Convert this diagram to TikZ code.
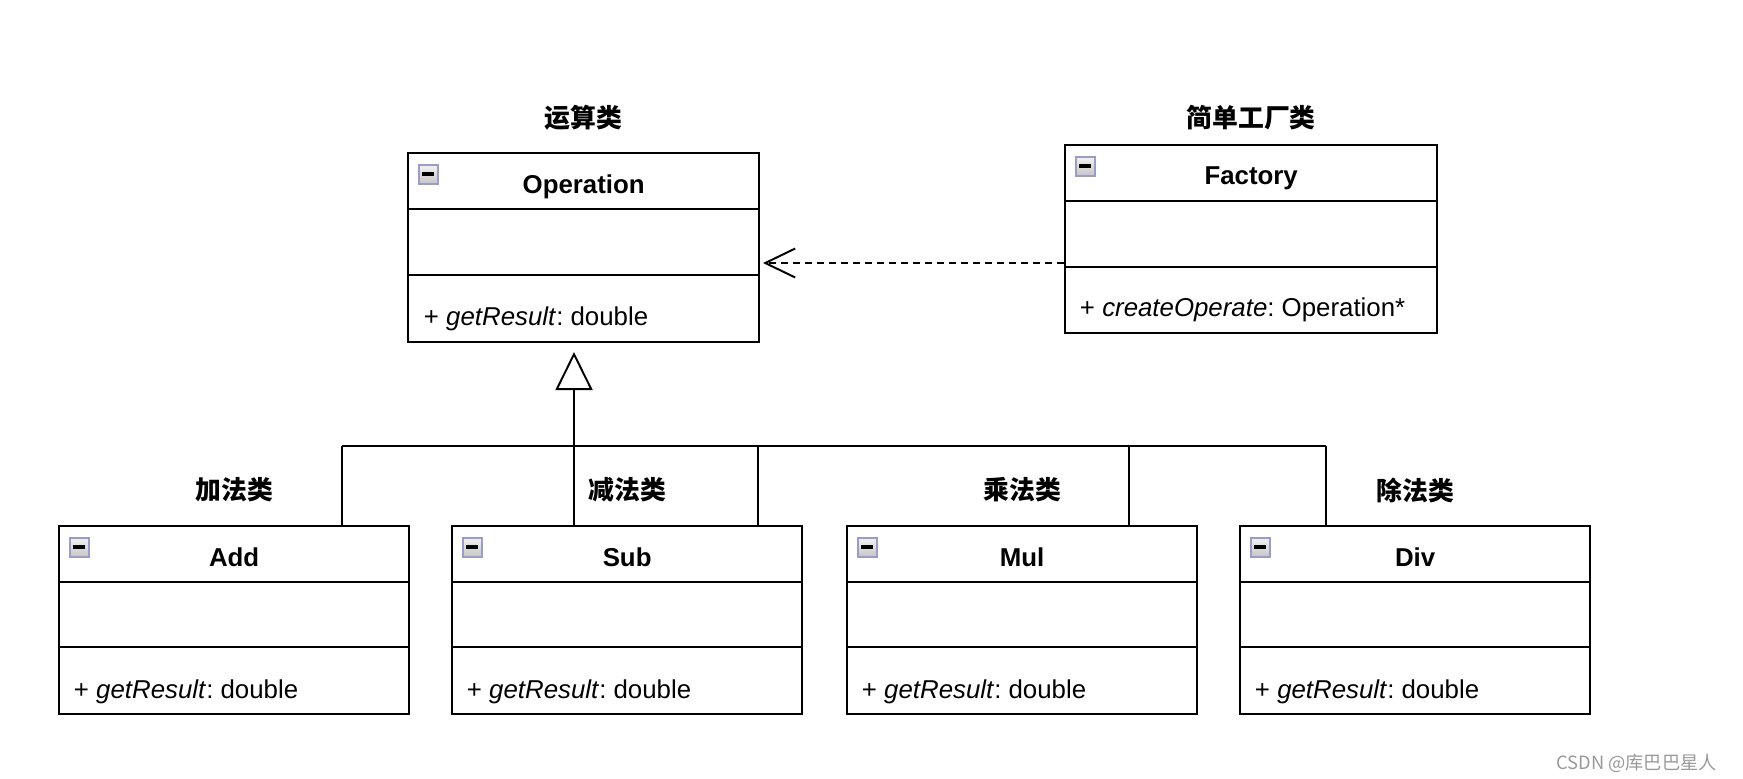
\documentclass[tikz,border=0pt]{standalone}
\usepackage{fontspec}
\setmainfont{Liberation Sans}
\newfontfamily\cjk{Noto Sans CJK SC}
\usetikzlibrary{arrows.meta}
\newcommand{\umlsize}{\fontsize{7.35pt}{9pt}\selectfont}
\frenchspacing

\tikzset{
	classbox/.style={draw,line width=0.65pt,minimum width=3.5cm,minimum height=1.88cm,inner sep=0pt,anchor=north west},
	classname/.style={font=\umlsize\bfseries,inner sep=0pt,anchor=base},
	member/.style={font=\umlsize,anchor=base west,inner sep=0pt},
	tag/.style={font=\umlsize\cjk\bfseries,inner sep=0pt},
	fold/.style={draw=gray!70!blue!60,top color=gray!10,bottom color=gray!45,line width=0.45pt,minimum size=1.9mm,inner sep=0pt,anchor=north west,
		path picture={\draw[draw=black,line width=1.1pt] ([xshift=0.35mm]path picture bounding box.west) -- ([xshift=-0.35mm]path picture bounding box.east);}},
}

\begin{document}
\begin{tikzpicture}[x=0.1mm,y=-0.1mm,line width=0.55pt]
	\useasboundingbox (0,0) rectangle (1743,778);
	% base class
	\node[classbox,minimum width=3.51cm,minimum height=1.89cm] (op) at (407,152) {};
	\draw ([yshift=-5.7mm]op.north west) -- ([yshift=-5.7mm]op.north east);
	\draw ([yshift=-12.3mm]op.north west) -- ([yshift=-12.3mm]op.north east);
	\node[fold] (op-fold) at ([xshift=1.1mm,yshift=-1.2mm]op.north west) {};
	\node[classname] (op-name) at ([yshift=-4.1mm]op.north) {Operation};
	\node[member] (op-m) at ([xshift=1.6mm,yshift=1.8mm]op.south west) {+ \textit{getResult}: double};
	\node[tag] (op-tag) at ([yshift=3.4mm]op.north) {运算类};
	% factory
	\node[classbox,minimum width=3.72cm] (fac) at (1064,144) {};
	\draw ([yshift=-5.7mm]fac.north west) -- ([yshift=-5.7mm]fac.north east);
	\draw ([yshift=-12.3mm]fac.north west) -- ([yshift=-12.3mm]fac.north east);
	\node[fold] (fac-fold) at ([xshift=1.1mm,yshift=-1.2mm]fac.north west) {};
	\node[classname] (fac-name) at ([yshift=-4.0mm]fac.north) {Factory};
	\node[member] (fac-m) at ([xshift=1.5mm,yshift=1.8mm]fac.south west) {+ \textit{createOperate}: Operation*};
	\node[tag] (fac-tag) at ([yshift=2.6mm]fac.north) {简单工厂类};
	% subclasses
	\foreach \n/\x/\t/\l in {add/58/Add/加法类, sub/451/Sub/减法类, mul/846/Mul/乘法类, div/1239/Div/除法类}{
		\node[classbox] (\n) at (\x,525) {};
		\draw ([yshift=-5.7mm]\n.north west) -- ([yshift=-5.7mm]\n.north east);
		\draw ([yshift=-12.2mm]\n.north west) -- ([yshift=-12.2mm]\n.north east);
		\node[fold] (\n-fold) at ([xshift=1.1mm,yshift=-1.2mm]\n.north west) {};
		\node[classname] (\n-name) at ([yshift=-4.1mm]\n.north) {\t};
		\node[member] (\n-m) at ([xshift=1.5mm,yshift=1.7mm]\n.south west) {+ \textit{getResult}: double};
		\node[tag] (\n-tag) at ([yshift=3.5mm]\n.north) {\l};
	}
	% inheritance
	\coordinate (tip) at (574,352);
	\coordinate (bus-l) at (342,446);
	\coordinate (bus-r) at (1326,446);
	\draw[-{Triangle[open,length=3.8mm,width=3.7mm]}] (tip |- sub.north) -- (tip);
	\draw (bus-l) -- (bus-r);
	\foreach \x/\n in {342/add, 758/sub, 1129/mul, 1326/div}
		\draw (\x,446) -- (\x,446 |- \n.north);
	% dependency
	\coordinate (dep) at (763,263);
	\draw[dash pattern=on 0.7mm off 0.5mm,-{Straight Barb[length=3mm,width=2.9mm]}] (fac.west |- dep) -- (dep);
	\node[font=\fontsize{5.2pt}{6pt}\selectfont\cjk,text=gray!80,anchor=east,inner sep=0pt] (mark) at (1718,763) {CSDN @库巴巴星人};
\end{tikzpicture}
\end{document}
